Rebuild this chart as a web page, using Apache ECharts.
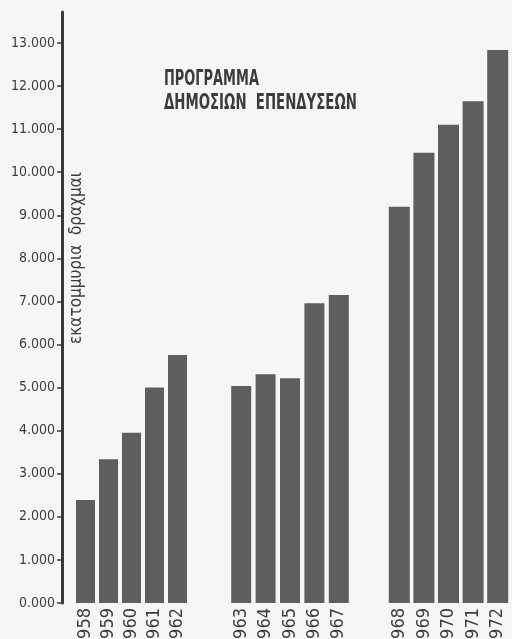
<!DOCTYPE html>
<html><head><meta charset="utf-8">
<script src="https://cdn.jsdelivr.net/npm/echarts@6/dist/echarts.min.js"></script>
<style>html,body{margin:0;padding:0;background:#f6f6f4}#c{width:512px;height:639px}</style>
</head><body><div id="c"></div>
<script>
const years1 = ['1958','1959','1960','1961','1962'];
const values1 = [2390, 3340, 3950, 5000, 5760];
const years2 = ['1963','1964','1965','1966','1967'];
const values2 = [5040, 5310, 5220, 6960, 7150];
const years3 = ['1968','1969','1970','1971','1972'];
const values3 = [9200, 10450, 11100, 11650, 12840];
const yTicks = [0,1000,2000,3000,4000,5000,6000,7000,8000,9000,10000,11000,12000,13000];
const titleLine1 = 'ΠΡΟΓΡΑΜΜΑ';
const titleLine2 = 'ΔΗΜΟΣΙΩΝ  ΕΠΕΝΔΥΣΕΩΝ';
const yName = 'εκατομμυρια  δραχμαι';

const FONT = '"DejaVu Sans Condensed","Liberation Sans Narrow",sans-serif';
const TXT = '#3c3c3c';
const BAR = '#5e5e5e';
const YMAX = 13720;

const grids = [
  {left: 74, width: 115, top: 12, height: 591, outerBoundsMode: 'none', containLabel: false},
  {left: 229, width: 122, top: 12, height: 591, outerBoundsMode: 'none', containLabel: false},
  {left: 387, width: 123, top: 12, height: 591, outerBoundsMode: 'none', containLabel: false}
];
const cats = [years1, years2, years3];
const vals = [values1, values2, values3];
const bw = [19, 20, 21];

const xAxes = cats.map((c, i) => ({
  type: 'category', gridIndex: i, data: c,
  axisLine: {show: false}, axisTick: {show: false},
  axisLabel: {rotate: 90, fontFamily: FONT, fontSize: 18, color: TXT, margin: 5, interval: 0}
}));
const yAxes = [0,1,2].map(i => ({
  type: 'value', gridIndex: i, min: 0, max: YMAX,
  show: i === 0,
  offset: 12,
  splitLine: {show: false},
  axisLine: {show: true, lineStyle: {color: '#3a3a3a', width: 3}},
  axisTick: {show: true, length: 5, inside: false, customValues: yTicks, lineStyle: {color: '#3a3a3a', width: 1.5}},
  axisLabel: {customValues: yTicks, fontFamily: FONT, fontSize: 14, color: TXT, margin: 7,
    padding: [0,0,6,0],
    formatter: v => (v/1000).toFixed(3)}
}));
const series = vals.map((v, i) => ({
  type: 'bar', xAxisIndex: i, yAxisIndex: i, data: v, barWidth: bw[i],
  itemStyle: {color: BAR}, silent: true
}));

const chart = echarts.init(document.getElementById('c'), null, {renderer: 'canvas'});
chart.setOption({
  backgroundColor: '#f6f6f4',
  animation: false,
  grid: grids,
  xAxis: xAxes,
  yAxis: yAxes,
  series: series,
  graphic: [
    {type: 'text', left: 164, top: 68, scaleX: 0.72, scaleY: 1.1,
     style: {text: titleLine1, font: 'bold 20px ' + FONT, fill: TXT}},
    {type: 'text', left: 164, top: 92, scaleX: 0.74, scaleY: 1.1,
     style: {text: titleLine2, font: 'bold 20px ' + FONT, fill: TXT}},
    {type: 'text', x: 77, y: 258, rotation: Math.PI/2,
     style: {text: yName, font: '17px ' + FONT, fill: TXT, align: 'center', verticalAlign: 'middle'}}
  ]
});
</script></body></html>
